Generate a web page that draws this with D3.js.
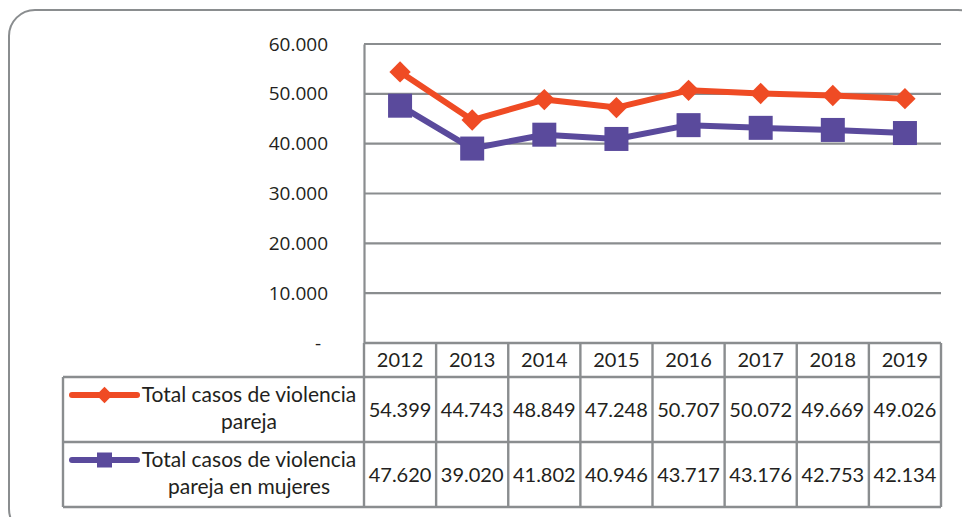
<!DOCTYPE html>
<html><head><meta charset="utf-8">
<script src="https://cdn.jsdelivr.net/npm/d3@7"></script>
<style>body{margin:0;background:#fff}svg{display:block}</style>
</head><body>
<svg id="c" width="962" height="517"></svg>
<script>
const years = ["2012","2013","2014","2015","2016","2017","2018","2019"];
const seriesNames = [["Total casos de violencia","pareja"],["Total casos de violencia","pareja en mujeres"]];
const totalPareja = [54399,44743,48849,47248,50707,50072,49669,49026];
const parejaMujeres = [47620,39020,41802,40946,43717,43176,42753,42134];
const yTicks = [0,10000,20000,30000,40000,50000,60000];
const colors = ["#EF4B24","#5A4A9C"];

const svg = d3.select("#c");
const loc = d3.formatLocale({decimal:",",thousands:".",grouping:[3],currency:["",""]});
const fmt = loc.format(",");
const fmtTick = v => v===0 ? "-" : loc.format(",.3f")(v/1000).replace(",",".");

const gridColor = "#8a8d8f";
const textColor = "#231f20";

// outer rounded border
svg.append("rect").attr("x",9).attr("y",10).attr("width",975).attr("height",525)
  .attr("rx",26).attr("fill","none").attr("stroke",gridColor).attr("stroke-width",2);

const x = d3.scaleBand().domain(years).range([364,941]);
const y = d3.scaleLinear().domain([0,60000]).range([343,44]);

// gridlines
svg.append("g").selectAll("line").data(yTicks).join("line")
  .attr("x1",364).attr("x2",941).attr("y1",d=>y(d)).attr("y2",d=>y(d))
  .attr("stroke",gridColor).attr("stroke-width",2.2);

// y axis
const yAxis = d3.axisLeft(y).tickValues(yTicks).tickSize(0).tickPadding(36).tickFormat(fmtTick);
const ga = svg.append("g").attr("transform","translate(364,0)").call(yAxis);
ga.select(".domain").attr("stroke",gridColor).attr("stroke-width",2.2);
ga.selectAll("text").attr("font-family","'Open Sans'").attr("font-size",19).attr("fill",textColor);
ga.selectAll(".tick").filter(d=>d===0).select("text").attr("dx",-7);

// table geometry
const rowTop = [343,377,442,507];
const legendLeft = 63;
const tbl = svg.append("g").attr("stroke",gridColor).attr("stroke-width",2.4);
tbl.append("line").attr("x1",364).attr("x2",941).attr("y1",rowTop[0]).attr("y2",rowTop[0]);
[1,2,3].forEach(i=>tbl.append("line").attr("x1",legendLeft).attr("x2",941).attr("y1",rowTop[i]).attr("y2",rowTop[i]));
years.forEach(yr=>tbl.append("line").attr("x1",x(yr)).attr("x2",x(yr)).attr("y1",rowTop[0]).attr("y2",rowTop[3]));
tbl.append("line").attr("x1",941).attr("x2",941).attr("y1",rowTop[0]).attr("y2",rowTop[3]);
tbl.append("line").attr("x1",legendLeft).attr("x2",legendLeft).attr("y1",rowTop[1]).attr("y2",rowTop[3]);

const tfont = "Lato";
svg.append("g").selectAll("text").data(years).join("text")
  .attr("x",d=>x(d)+x.bandwidth()/2).attr("y",(rowTop[0]+rowTop[1])/2+7)
  .attr("text-anchor","middle").attr("font-family",tfont).attr("font-size",20).attr("fill",textColor)
  .text(d=>d);

const series = [totalPareja, parejaMujeres];
series.forEach((vals,i)=>{
  const cy = (rowTop[i+1]+rowTop[i+2])/2+7;
  svg.append("g").selectAll("text").data(vals).join("text")
    .attr("x",(d,j)=>x(years[j])+x.bandwidth()/2).attr("y",cy)
    .attr("text-anchor","middle").attr("font-family",tfont).attr("font-size",20).attr("fill",textColor)
    .text(d=>fmt(d));
  const ly = rowTop[i+1]+18;
  svg.append("line").attr("x1",72).attr("x2",137).attr("y1",ly).attr("y2",ly)
    .attr("stroke",colors[i]).attr("stroke-width",6).attr("stroke-linecap","round");
  if(i===0){
    svg.append("path").attr("d",d3.symbol(d3.symbolDiamond2,170)()).attr("transform",`translate(104.5,${ly})`).attr("fill",colors[i]);
  } else {
    svg.append("rect").attr("x",97).attr("y",ly-7.5).attr("width",15).attr("height",15).attr("fill",colors[i]);
  }
  const t = svg.append("text").attr("font-family",tfont).attr("font-size",21).attr("fill",textColor).attr("text-anchor","middle");
  t.append("tspan").attr("x",249).attr("y",ly+7).text(seriesNames[i][0]);
  t.append("tspan").attr("x",249).attr("y",ly+34).text(seriesNames[i][1]);
});

const line = d3.line().x((d,j)=>x(years[j])+x.bandwidth()/2).y(d=>y(d));
[1,0].forEach(i=>{
  svg.append("path").attr("d",line(series[i])).attr("fill","none").attr("stroke",colors[i]).attr("stroke-width",6).attr("stroke-linejoin","round");
  const g = svg.append("g");
  if(i===0){
    g.selectAll("path").data(series[i]).join("path")
      .attr("d",d3.symbol(d3.symbolDiamond2,290)())
      .attr("transform",(d,j)=>`translate(${x(years[j])+x.bandwidth()/2},${y(d)})`)
      .attr("fill",colors[i]);
  } else {
    g.selectAll("rect").data(series[i]).join("rect")
      .attr("x",(d,j)=>x(years[j])+x.bandwidth()/2-12).attr("y",d=>y(d)-12)
      .attr("width",24).attr("height",24).attr("fill",colors[i]);
  }
});
</script>
</body></html>
